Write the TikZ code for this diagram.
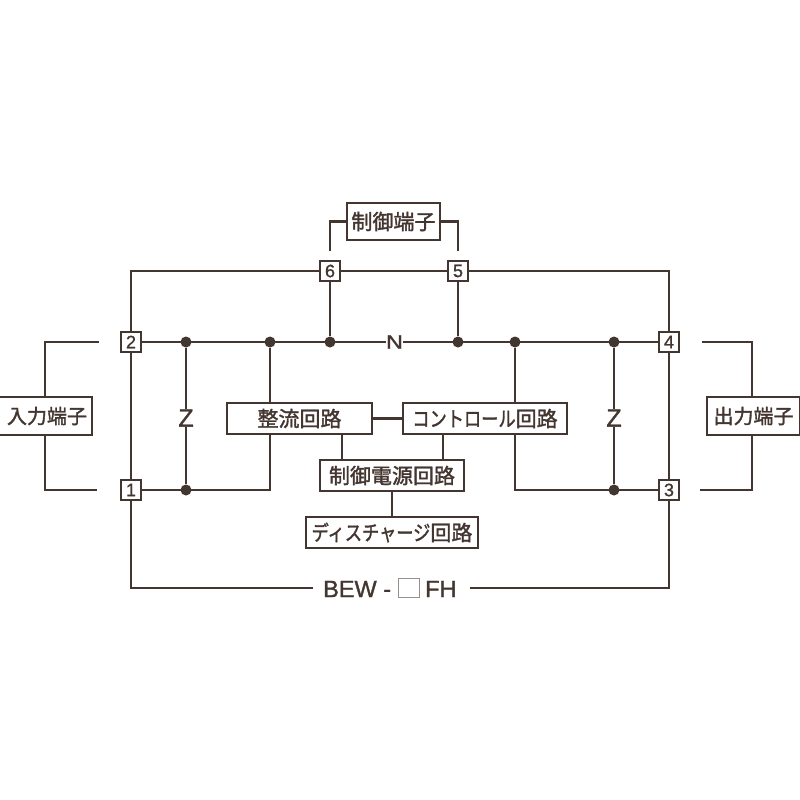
\documentclass[tikz,border=0pt]{standalone}
\usepackage{fontspec}
\setmainfont{Liberation Sans}
\newfontfamily\cjk{Noto Sans CJK JP}[FakeBold=1.6]
\newfontfamily\lat{Liberation Sans}[FakeBold=1.2]
\definecolor{ink}{HTML}{43352F}
\newcommand{\kata}[1]{\scalebox{0.82}[1]{#1}}
\tikzset{
  wire/.style={draw=ink,line width=2.3pt,line join=miter},
  term/.style={draw=ink,line width=2.3pt,fill=white,minimum width=20pt,minimum height=20pt,inner sep=0pt,text=ink,font=\lat\fontsize{18}{18}\selectfont},
  lbox/.style={draw=ink,line width=2.3pt,fill=white,inner sep=0pt,text=ink,font=\cjk\fontsize{21}{21}\selectfont},
  portbox/.style={lbox,minimum width=93pt,minimum height=38pt,font=\cjk\fontsize{20}{20}\selectfont},
  dot/.style={circle,fill=ink,minimum size=11pt,inner sep=0pt},
  imp/.style={inner sep=0pt,text=ink,font=\lat\fontsize{25}{25}\selectfont},
  model/.style={inner sep=0pt,text=ink,font=\lat\fontsize{23.5}{24}\selectfont}
}
\begin{document}
\begin{tikzpicture}[x=1pt,y=-1pt]
\useasboundingbox[fill=white] (0,0) rectangle (800,800);
% terminals
\node[term] (t2) at (131,342) {2};
\node[term] (t1) at (131,490) {1};
\node[term] (t6) at (330,271) {6};
\node[term] (t5) at (458,271) {5};
\node[term] (t4) at (669,342) {4};
\node[term] (t3) at (669,490) {3};
% labelled boxes
\node[lbox,minimum width=93pt,minimum height=37pt] (ctrlterm) at (393.5,221.5) {制御端子};
\node[portbox] (inbox) at (45.5,416) {\hspace{3pt}入力端子};
\node[portbox] (outbox) at (753.5,416) {出力端子};
\node[lbox,minimum width=145pt,minimum height=31pt] (rect) at (299.5,418.5) {整流回路};
\node[lbox,minimum width=164pt,minimum height=31pt] (ctl) at (485,418.5) {\kata{コントロール}回路};
\node[lbox,minimum width=144pt,minimum height=31pt] (psu) at (392,475.5) {制御電源回路};
\node[lbox,minimum width=172pt,minimum height=31pt] (dis) at (392,532.5) {\kata{ディスチャージ}回路};
% junction dots
\node[dot] (a1) at (186,342) {};
\node[dot] (a2) at (270,342) {};
\node[dot] (a3) at (330,342) {};
\node[dot] (a4) at (458,342) {};
\node[dot] (a5) at (515,342) {};
\node[dot] (a6) at (614,342) {};
\node[dot] (b1) at (186,490) {};
\node[dot] (b2) at (614,490) {};
% impedance marks
\node[imp] (z1) at (186,418) {Z};
\node[imp] (z2) at (614,418) {Z};
\node[imp,font=\lat\fontsize{19.5}{20}\selectfont] (n1) at (394.5,342) {\scalebox{1.2}[1]{N}};
% model label
\node[model,anchor=west] (m1) at (323,589) {BEW -};
\node[draw=ink!55,line width=1pt,minimum width=21pt,minimum height=19pt,inner sep=0pt] (m2) at (409,588) {};
\node[model,anchor=west] (m3) at (425,589) {FH};
% free ends and corners
\coordinate (c6) at (330,251);
\coordinate (c5) at (458,251);
\coordinate (inA) at (99,342);
\coordinate (inB) at (97,490);
\coordinate (outA) at (702,342);
\coordinate (outB) at (700,490);
\coordinate (bl) at (131,588);
\coordinate (br) at (669,588);
\coordinate (ml) at (313,588);
\coordinate (mr) at (470,588);
\coordinate (tl) at (131,271);
\coordinate (tr) at (669,271);
\coordinate (r1) at (270,490);
\coordinate (r2) at (515,490);
% connectors
\draw[wire] (ctrlterm.west) -| (c6);
\draw[wire] (ctrlterm.east) -| (c5);
\draw[wire] (t2.north) -- (tl) -- (t6.west);
\draw[wire] (t6.east) -- (t5.west);
\draw[wire] (t5.east) -- (tr) -- (t4.north);
\draw[wire] (t6.south) -- (a3);
\draw[wire] (t5.south) -- (a4);
\draw[wire] (t2.south) -- (t1.north);
\draw[wire] (t4.south) -- (t3.north);
\draw[wire] (t1.south) -- (bl) -- (ml);
\draw[wire] (t3.south) -- (br) -- (mr);
\draw[wire] (t2.east) -- (n1.west);
\draw[wire] (n1.east) -- (t4.west);
\draw[wire] (t1.east) -- (r1) -- (rect.south -| r1);
\draw[wire] (t3.west) -- (r2) -- (ctl.south -| r2);
\draw[wire] (a1) -- (z1.north);
\draw[wire] (z1.south) -- (b1);
\draw[wire] (a6) -- (z2.north);
\draw[wire] (z2.south) -- (b2);
\draw[wire] (a2) -- (rect.north -| a2);
\draw[wire] (a5) -- (ctl.north -| a5);
\draw[wire] (rect.east) -- (ctl.west);
\draw[wire] (rect.south -| 342,0) -- (psu.north -| 342,0);
\draw[wire] (ctl.south -| 443,0) -- (psu.north -| 443,0);
\draw[wire] (psu.south) -- (dis.north);
\draw[wire] (inbox.north -| 45,0) |- (inA);
\draw[wire] (inbox.south -| 45,0) |- (inB);
\draw[wire] (outbox.north -| 752,0) |- (outA);
\draw[wire] (outbox.south -| 752,0) |- (outB);
\end{tikzpicture}
\end{document}
